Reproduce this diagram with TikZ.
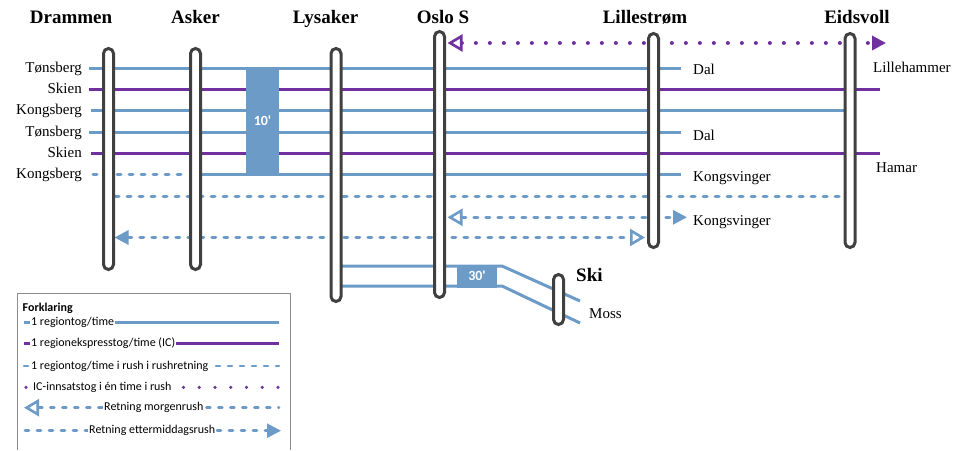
\documentclass[tikz,border=0pt]{standalone}
\usepackage{fontspec}
\setmainfont{Liberation Serif}
\newfontfamily\calib{Carlito}
\usetikzlibrary{arrows.meta}
\definecolor{lblue}{RGB}{108,155,200}
\definecolor{ipurple}{RGB}{112,48,160}
\definecolor{pgray}{RGB}{64,64,64}
\definecolor{boxgray}{RGB}{140,140,140}
\pgfdeclarelayer{bg}
\pgfsetlayers{bg,main}
\tikzset{
  otip/.tip={Triangle[open,length=15pt,width=17pt,line width=2.6pt,fill=white]},
  ftip/.tip={Triangle[length=14pt,width=14pt]}
}
\begin{document}
\begin{tikzpicture}[x=1pt,y=-1pt,
  pillar/.style={draw=pgray,fill=white,line width=3pt,rounded corners=5pt,minimum width=10pt,inner sep=0pt},
  station/.style={font=\bfseries\fontsize{19}{22}\selectfont,anchor=base,inner sep=0pt},
  lbl/.style={font=\fontsize{15}{18}\selectfont,inner sep=0pt},
  bl/.style={draw=lblue,line width=3pt},
  pl/.style={draw=ipurple,line width=3pt},
  bd/.style={draw=lblue,line width=3pt,line cap=round,dash pattern=on 4pt off 8pt},
  pd/.style={draw=ipurple,line width=4pt,line cap=round,dash pattern=on 0pt off 14pt},
  minbox/.style={fill=lblue,inner sep=0pt,text=white,font=\calib\bfseries\fontsize{14}{16}\selectfont},
  leg/.style={font=\calib\fontsize{12}{14}\selectfont,fill=white,inner xsep=1pt,inner ysep=0pt,anchor=west},
  lgl/.style={draw=lblue,line width=2.6pt},
  lgp/.style={draw=ipurple,line width=2.6pt},
  lgd/.style={draw=lblue,line width=2.6pt,line cap=round,dash pattern=on 4pt off 8pt},
  lgpd/.style={draw=ipurple,line width=3.6pt,line cap=round,dash pattern=on 0pt off 15.75pt}
]
\useasboundingbox (0,0) rectangle (960,450);

% station pillars
\node[pillar,minimum height=221pt] (dra) at (108.5,159) {};
\node[pillar,minimum height=221pt] (ask) at (195.5,159) {};
\node[pillar,minimum height=253pt] (lys) at (336,175) {};
\node[pillar,minimum height=266pt] (osl) at (439.5,164.5) {};
\node[pillar,minimum height=214pt] (lil) at (653.5,140.5) {};
\node[pillar,minimum height=214pt] (eid) at (850,140.5) {};
\node[pillar,minimum height=50pt] (ski) at (558.5,299.5) {};

% station names
\node[station] (tdra) at (71,23) {Drammen};
\node[station] (task) at (195.5,23) {Asker};
\node[station] (tlys) at (325.5,23) {Lysaker};
\node[station] (tosl) at (443,23) {Oslo S};
\node[station] (tlil) at (645,23) {Lillestrøm};
\node[station] (teid) at (857,23) {Eidsvoll};
\node[station,anchor=base west] (tski) at (576,281) {Ski};

% left labels
\node[lbl,anchor=base east] (l1) at (82,72) {Tønsberg};
\node[lbl,anchor=base east] (l2) at (82,93) {Skien};
\node[lbl,anchor=base east] (l3) at (82,114) {Kongsberg};
\node[lbl,anchor=base east] (l4) at (82,136) {Tønsberg};
\node[lbl,anchor=base east] (l5) at (82,157) {Skien};
\node[lbl,anchor=base east] (l6) at (82,178) {Kongsberg};

% right labels
\node[lbl,anchor=base west] (d1) at (693,74) {Dal};
\node[lbl,anchor=base west] (d2) at (693,140) {Dal};
\node[lbl,anchor=base west] (k1) at (693,181.5) {Kongsvinger};
\node[lbl,anchor=base west] (k2) at (693,225) {Kongsvinger};
\node[lbl,anchor=base west] (lh) at (873,72.5) {Lillehammer};
\node[lbl,anchor=base west] (ha) at (876,172.5) {Hamar};
\node[lbl,anchor=base west] (mo) at (589,318) {Moss};

% line end coordinates
\coordinate (r1a) at (89,68);   \coordinate (r1b) at (681,68);
\coordinate (r2a) at (89,89);   \coordinate (r2b) at (880,89);
\coordinate (r3a) at (91,110);
\coordinate (r4a) at (89,132);  \coordinate (r4b) at (681,132);
\coordinate (r5a) at (91,153);  \coordinate (r5b) at (880,153);
\coordinate (r6a) at (93,174);  \coordinate (r6c) at (188,174); \coordinate (r6b) at (681,174);
\coordinate (r8b) at (687,217.3);
\coordinate (pdb) at (886,43);
\coordinate (bra) at (502,266); \coordinate (brb) at (502,286);
\coordinate (bre) at (580,301); \coordinate (brf) at (580,323);

% 10' box
\node[minbox,minimum width=33pt,minimum height=108pt] (ten) at (262.5,120.5) {10\textquotesingle};
% 30' box
\node[minbox,minimum width=40pt,minimum height=23pt] (thirty) at (477,276) {30\textquotesingle};

\begin{pgfonlayer}{bg}
\draw[bl] (r1a) -- (r1b);
\draw[pl] (r2a) -- (r2b);
\draw[bl] (r3a) -- (eid.center |- r3a);
\draw[bl] (r4a) -- (r4b);
\draw[pl] (r5a) -- (r5b);
\draw[bd] (r6a) -- (r6c);
\draw[bl] (ask.center |- r6a) -- (r6b);
\draw[bd] (dra.east |- 0,196) -- (eid.west |- 0,196);
\draw[bd,{otip}-{ftip}] ([xshift=1.5pt]osl.east |- 0,217.3) -- (r8b);
\draw[bd,{ftip}-{otip}] ([xshift=-0.5pt]dra.east |- 0,237.5) -- ([xshift=-2pt]lil.west |- 0,237.5);
\draw[pd,{otip}-{ftip}] ([xshift=1.5pt]osl.east |- 0,43) -- (pdb);
\draw[bl] (lys.center |- bra) -- (bra) -- (bre);
\draw[bl] (lys.center |- brb) -- (brb) -- (brf);
\end{pgfonlayer}

% legend
\draw[boxgray,line width=0.8pt] (17,450) -- (17,293) -- (290,293) -- (290,450);
\node[font=\calib\bfseries\fontsize{12}{14}\selectfont,anchor=base west,inner sep=0pt] (fk) at (22.5,311) {Forklaring};
\coordinate (g1a) at (24,322.7); \coordinate (g1b) at (279,322.7);
\coordinate (g2a) at (24,343.3); \coordinate (g2b) at (279,343.3);
\coordinate (g3a) at (24,366);   \coordinate (g3b) at (279,366);
\coordinate (g4a) at (26,387.3); \coordinate (g4b) at (278,387.3);
\coordinate (g5a) at (24,407.7); \coordinate (g5b) at (279,407.7);
\coordinate (g6a) at (25,430.7); \coordinate (g6b) at (281,430.7);
\draw[lgl] (g1a) -- (g1b);
\draw[lgp] (g2a) -- (g2b);
\draw[lgd] (g3a) -- (g3b);
\draw[lgpd] (g4a) -- (g4b);
\draw[lgd,{otip}-] (g5a) -- (g5b);
\draw[lgd,-{ftip}] (g6a) -- (g6b);
\node[leg] (e1) at (30,322.7) {1 regiontog/time};
\node[leg] (e2) at (30,343.3) {1 regionekspresstog/time (IC)};
\node[leg] (e3) at (30,366) {1 regiontog/time i rush i rushretning};
\node[leg] (e4) at (32,387.3) {IC-innsatstog i én time i rush};
\node[leg] (e5) at (103,407.7) {Retning morgenrush};
\node[leg] (e6) at (88,430.7) {Retning ettermiddagsrush};
\end{tikzpicture}
\end{document}
